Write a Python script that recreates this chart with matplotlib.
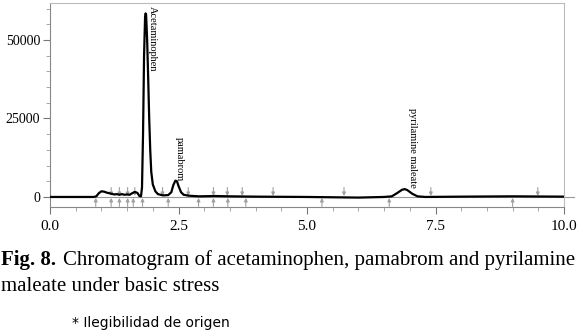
import matplotlib
matplotlib.use("Agg")
import matplotlib.pyplot as plt
from matplotlib.ticker import MultipleLocator

# Chromatogram trace (time in min, signal)
time = [0.0, 0.5, 0.85, 0.9, 0.95, 1.0, 1.05, 1.1, 1.15, 1.2, 1.25, 1.3, 1.35,
        1.4, 1.45, 1.5, 1.55, 1.6, 1.65, 1.7, 1.74, 1.77, 1.79, 1.81, 1.83,
        1.85, 1.86, 1.87, 1.89, 1.91, 1.93, 1.95, 1.97, 2.0, 2.05, 2.1, 2.2,
        2.3, 2.36, 2.4, 2.44, 2.47, 2.5, 2.55, 2.6, 2.7, 2.9, 3.2, 3.5, 4.0,
        5.0, 6.0, 6.5, 6.65, 6.75, 6.85, 6.9, 6.95, 7.05, 7.15, 7.3, 8.0,
        9.0, 10.0]
signal = [0, 0, 0, 200, 1200, 1800, 1700, 1400, 1200, 1000, 800, 900, 700,
          900, 700, 800, 700, 1200, 1600, 1300, 300, 200, 3000, 20000, 45000,
          57500, 58500, 58000, 50000, 38000, 25000, 15000, 8000, 4000, 1800,
          900, 500, 600, 1500, 3800, 5200, 5000, 3500, 1500, 700, 400, 200,
          300, 200, 100, 0, -200, 0, 200, 1200, 2300, 2500, 2200, 1000, 200,
          0, 100, 200, 100]

# Integration markers
up_marks = [0.89, 1.19, 1.35, 1.51, 1.62, 1.80, 2.30, 2.89, 3.18, 3.46, 3.81,
            5.29, 6.60, 9.00]
down_marks = [1.19, 1.35, 1.51, 1.65, 2.19, 2.69, 3.18, 3.45, 3.74, 4.34,
              5.72, 7.41, 9.49]

# Peak labels
peak_names = ["Acetaminophen", "pamabrom", "pyrilamine maleate"]
peak_x = [2.0, 2.51, 7.06]
peak_y = [61000, 19000, 28300]

xticks = [0.0, 2.5, 5.0, 7.5, 10.0]
yticks = [0, 25000, 50000]

plt.rcParams['font.family'] = ['Liberation Serif', 'DejaVu Serif']

W, H = 580, 334
fig = plt.figure(figsize=(5.8, 3.34), dpi=100)
ax = fig.add_axes([50/W, 1-207/H, (564-50)/W, (207-3)/H])

ax.set_xlim(0, 10)
ax.set_ylim(-3200, 61800)

ax.axhline(0, xmin=0, xmax=1.02, color='#999999', lw=0.8, clip_on=False, zorder=1)

for x in up_marks:
    ax.annotate('', xy=(x, -300), xytext=(x, -3000),
                arrowprops=dict(arrowstyle='-|>', color='#a0a0a0', lw=0.8,
                                mutation_scale=5, shrinkA=0, shrinkB=0))
for x in down_marks:
    ax.annotate('', xy=(x, 300), xytext=(x, 3000),
                arrowprops=dict(arrowstyle='-|>', color='#a0a0a0', lw=0.8,
                                mutation_scale=5, shrinkA=0, shrinkB=0))

ax.plot(time, signal, color='black', lw=1.6, zorder=3)

for name, x, y in zip(peak_names, peak_x, peak_y):
    ax.text(x, y, name, rotation=-90, ha='center', va='top', fontsize=7.5)

ax.set_xticks(xticks)
ax.set_xticklabels([f"{v:.1f}" for v in xticks], fontsize=11)
ax.set_yticks(yticks)
ax.set_yticklabels([str(v) for v in yticks], fontsize=10)
ax.xaxis.set_minor_locator(MultipleLocator(0.5))
ax.yaxis.set_minor_locator(MultipleLocator(5000))
ax.tick_params(axis='both', which='major', direction='out', length=5,
               color='#777777', width=0.8)
ax.tick_params(axis='both', which='minor', direction='out', length=3,
               color='#999999', width=0.6)
ax.tick_params(axis='x', which='major', pad=4)
ax.tick_params(axis='y', which='major', pad=2)

for s in ['top', 'right']:
    ax.spines[s].set_color('#bbbbbb')
    ax.spines[s].set_linewidth(0.8)
for s in ['left', 'bottom']:
    ax.spines[s].set_color('#888888')
    ax.spines[s].set_linewidth(0.8)

# Caption
fs = 15
renderer = fig.canvas.get_renderer()
t1 = fig.text(1/W, 1-265/H, "Fig. 8.", fontsize=fs, fontweight='bold',
              va='baseline', ha='left')
bb = t1.get_window_extent(renderer=renderer)
fig.text((bb.x1 + 7)/W, 1-265/H,
         "Chromatogram of acetaminophen, pamabrom and pyrilamine",
         fontsize=fs, va='baseline', ha='left')
fig.text(1/W, 1-291/H, "maleate under basic stress", fontsize=fs,
         va='baseline', ha='left')
fig.text(72/W, 1-327/H, "* Ilegibilidad de origen", fontsize=10,
         family=['DejaVu Sans'], va='baseline', ha='left')

fig.savefig("out.png", dpi=100)
